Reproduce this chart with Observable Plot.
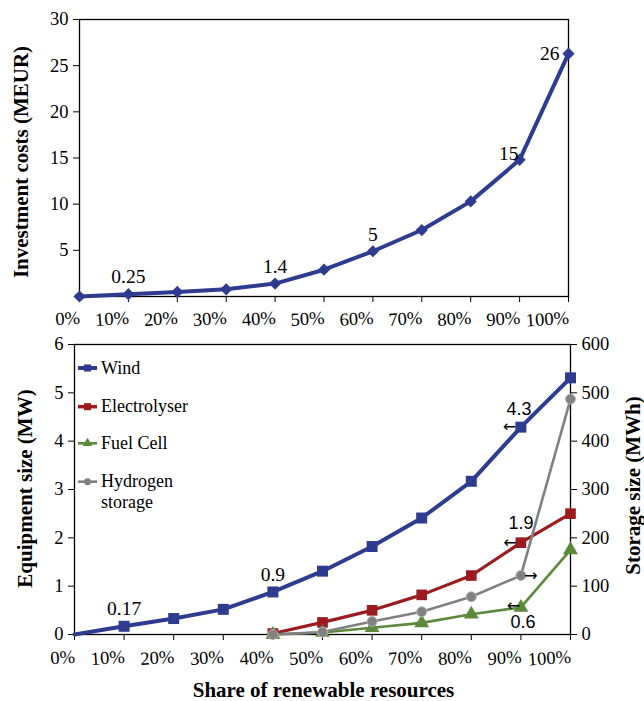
<!DOCTYPE html>
<html><head><meta charset="utf-8">
<script src="https://cdn.jsdelivr.net/npm/d3@7"></script>
<script src="https://cdn.jsdelivr.net/npm/@observablehq/plot@0.6"></script>
<style>
body{margin:0;background:#fff;}
#wrap{position:relative;width:644px;height:701px;overflow:hidden;background:#fff;}
#wrap svg{display:block;}
</style></head><body><div id="wrap"></div>
<script>
// ---------- data ----------
const shares = [0, 10, 20, 30, 40, 50, 60, 70, 80, 90, 100];           // % renewable
const investment = [0, 0.25, 0.5, 0.78, 1.4, 2.9, 4.9, 7.2, 10.3, 14.8, 26.3]; // MEUR
const wind = [0, 0.17, 0.33, 0.52, 0.88, 1.31, 1.82, 2.41, 3.17, 4.29, 5.31];   // MW
const electrolyser = [null, null, null, null, 0.02, 0.25, 0.5, 0.82, 1.22, 1.9, 2.5]; // MW
const fuelCell = [null, null, null, null, 0, 0.04, 0.14, 0.24, 0.42, 0.56, 1.75];    // MW
const hydrogenStorage = [null, null, null, null, 0, 5, 27, 47, 78, 122, 487];        // MWh
const investTicks = [5, 10, 15, 20, 25, 30];
const equipTicks = [0, 1, 2, 3, 4, 5, 6];
const storageTicks = [0, 100, 200, 300, 400, 500, 600];
const investLabelsAbove = [{share: 10, text: "0.25"}, {share: 40, text: "1.4"}, {share: 60, text: "5"}];
const investLabelsLeft = [{share: 90, text: "15"}, {share: 100, text: "26"}];
const windLabelsAbove = [{share: 10, text: "0.17"}, {share: 40, text: "0.9"}];
const seriesNames = ["Wind", "Electrolyser", "Fuel Cell", "Hydrogen storage"];

// ---------- helpers ----------
const serif = "'Liberation Serif','Times New Roman',serif";
const sans = "'Liberation Sans',Arial,sans-serif";
const arrowFont = "'DejaVu Sans',sans-serif";
const BLUE = "#2E3C8F", RED = "#9B1B1E", GREEN = "#5B8A3A", GREY = "#808080";
const ratio = storageTicks[storageTicks.length - 1] / equipTicks[equipTicks.length - 1];
const rows = (vals, k = 1) => shares.map((s, i) => ({share: s, value: vals[i] == null ? null : vals[i] / k}))
  .filter(d => d.value != null);
const valAt = (vals, s, k = 1) => vals[shares.indexOf(s)] / k;

const invRows = rows(investment);
const windRows = rows(wind);
const elRows = rows(electrolyser);
const fcRows = rows(fuelCell);
const h2Rows = rows(hydrogenStorage, ratio);

const wrap = document.getElementById("wrap");
const baseStyle = {fontFamily: serif, fontSize: "18.5px", color: "black", background: "white", overflow: "visible"};

// ---------- top chart ----------
const topChart = Plot.plot({
  width: 644, height: 330,
  marginLeft: 79, marginRight: 76, marginTop: 19, marginBottom: 34,
  style: baseStyle,
  x: {domain: [0, 100]},
  y: {domain: [0, 30]},
  marks: [
    Plot.frame({stroke: "black", strokeWidth: 1.3}),
    Plot.axisY({ticks: investTicks, tickFormat: d => String(d), tickSize: 6, tickPadding: 5, label: null, fontFamily: serif}),
    Plot.axisX({ticks: shares, tickFormat: d => d + "%", tickSize: 6, tickPadding: 8, textAnchor: "end", tickRotate: -4, label: null, fontFamily: serif}),
    Plot.line(invRows, {x: "share", y: "value", stroke: BLUE, strokeWidth: 4, strokeLinejoin: "round"}),
    Plot.dot(invRows, {x: "share", y: "value", symbol: "diamond2", r: 5.5, fill: BLUE}),
    Plot.text(investLabelsAbove, {x: "share", y: d => valAt(investment, d.share), text: "text", dy: -17, fontSize: 19.5, fontFamily: serif}),
    Plot.text(investLabelsLeft.filter(d => d.share === 90), {x: "share", y: d => valAt(investment, d.share), text: "text", textAnchor: "end",
      fontSize: 19.5, fontFamily: serif, dx: -1, dy: -6}),
    Plot.text(investLabelsLeft.filter(d => d.share === 100), {x: "share", y: d => valAt(investment, d.share), text: "text", textAnchor: "end",
      fontSize: 19.5, fontFamily: serif, dx: -9, dy: 0}),
    Plot.text(["Investment costs (MEUR)"], {frameAnchor: "left", textAnchor: "middle", lineAnchor: "middle", rotate: -90, dx: -58, dy: 4,
      fontWeight: "bold", fontSize: 21, fontFamily: serif})
  ]
});
wrap.appendChild(topChart);

// ---------- bottom chart ----------
const bottomChart = Plot.plot({
  width: 644, height: 371,
  marginLeft: 74, marginRight: 74, marginTop: 14, marginBottom: 67,
  style: baseStyle,
  x: {domain: [0, 100]},
  y: {domain: [0, 6]},
  marks: [
    Plot.frame({stroke: "black", strokeWidth: 1.3}),
    Plot.axisY({ticks: equipTicks, tickFormat: d => String(d), tickSize: 6, tickPadding: 5, label: null, fontFamily: serif}),
    Plot.axisY({anchor: "right", ticks: storageTicks.map(v => v / ratio), tickFormat: d => String(Math.round(d * ratio)),
      tickSize: 6, tickPadding: 5, label: null, fontFamily: serif}),
    Plot.axisX({ticks: shares, tickFormat: d => d + "%", tickSize: 6, tickPadding: 9, textAnchor: "end", tickRotate: -4, label: null, fontFamily: serif}),
    Plot.line(windRows, {x: "share", y: "value", stroke: BLUE, strokeWidth: 4, strokeLinejoin: "round"}),
    Plot.dot(windRows.filter(d => d.share > 0), {x: "share", y: "value", symbol: "square", r: 6.2, fill: BLUE}),
    Plot.line(elRows, {x: "share", y: "value", stroke: RED, strokeWidth: 3.2, strokeLinejoin: "round"}),
    Plot.dot(elRows, {x: "share", y: "value", symbol: "square", r: 6, fill: RED}),
    Plot.line(fcRows, {x: "share", y: "value", stroke: GREEN, strokeWidth: 2.6, strokeLinejoin: "round"}),
    Plot.dot(fcRows, {x: "share", y: "value", symbol: "triangle", r: 5.5, fill: GREEN}),
    Plot.line(h2Rows, {x: "share", y: "value", stroke: GREY, strokeWidth: 2.6, strokeLinejoin: "round"}),
    Plot.dot(h2Rows, {x: "share", y: "value", symbol: "circle", r: 5, fill: GREY, stroke: "#b5b5b5", strokeWidth: 1}),
    // value labels
    Plot.text(windLabelsAbove, {x: "share", y: d => valAt(wind, d.share), text: "text", dy: -17.5, fontSize: 19.5, fontFamily: serif}),
    Plot.text(["4.3"], {x: 90, y: valAt(wind, 90), dx: -2, dy: -18, fontFamily: sans, fontSize: 18}),
    Plot.text(["1.9"], {x: 90, y: valAt(electrolyser, 90), dy: -19, fontFamily: sans, fontSize: 18}),
    Plot.text(["0.6"], {x: 90, y: valAt(fuelCell, 90), dx: 2, dy: 15, fontFamily: sans, fontSize: 18}),
    // axis-pointing arrows
    Plot.text(["\u2190"], {x: 90, y: valAt(wind, 90), dx: -11.5, fontFamily: arrowFont, fontSize: 16}),
    Plot.text(["\u2190"], {x: 90, y: valAt(electrolyser, 90), dx: -11, fontFamily: arrowFont, fontSize: 16}),
    Plot.text(["\u2190"], {x: 90, y: valAt(fuelCell, 90), dx: -7.5, dy: -2, fontFamily: arrowFont, fontSize: 16}),
    Plot.text(["\u2192"], {x: 90, y: valAt(hydrogenStorage, 90, ratio), dx: 10, fontFamily: arrowFont, fontSize: 16}),
    // titles
    Plot.text(["Equipment size (MW)"], {frameAnchor: "left", textAnchor: "middle", lineAnchor: "middle", rotate: -90, dx: -49, dy: -1,
      fontWeight: "bold", fontSize: 21, fontFamily: serif}),
    Plot.text(["Storage size (MWh)"], {frameAnchor: "right", textAnchor: "middle", lineAnchor: "middle", rotate: -90, dx: 63, dy: -4,
      fontWeight: "bold", fontSize: 21, fontFamily: serif}),
    Plot.text(["Share of renewable resources"], {frameAnchor: "bottom", textAnchor: "middle", lineAnchor: "middle", dy: 56, dx: 1,
      fontWeight: "bold", fontSize: 21, fontFamily: serif})
  ]
});
wrap.appendChild(bottomChart);

// ---------- legend (inside bottom plot, top-left) ----------
const leg = d3.select(bottomChart).append("g").attr("font-family", serif).attr("font-size", 18).attr("text-anchor", "start");
const legItems = [
  {name: seriesNames[0], color: BLUE, sw: 4, sym: d3.symbolSquare, size: 50, y: 38},
  {name: seriesNames[1], color: RED, sw: 3.5, sym: d3.symbolSquare, size: 50, y: 76.7},
  {name: seriesNames[2], color: GREEN, sw: 2.6, sym: d3.symbolTriangle, size: 40, y: 113.3},
  {name: seriesNames[3], color: GREY, sw: 2.6, sym: d3.symbolCircle, size: 38, y: 151.7}
];
legItems.forEach(it => {
  const g = leg.append("g").attr("transform", `translate(0,${it.y})`);
  g.append("line").attr("x1", 78).attr("x2", 97).attr("y1", 0).attr("y2", 0)
    .attr("stroke", it.color).attr("stroke-width", it.sw);
  g.append("path").attr("d", d3.symbol(it.sym, it.size)()).attr("transform", "translate(87.5,0)")
    .attr("fill", it.color);
  const words = it.name === "Hydrogen storage" ? ["Hydrogen", "storage"] : [it.name];
  words.forEach((w, i) => {
    g.append("text").attr("x", 101).attr("y", i * 21).attr("dy", "0.32em").attr("fill", "black").text(w);
  });
});
</script>
</body></html>
